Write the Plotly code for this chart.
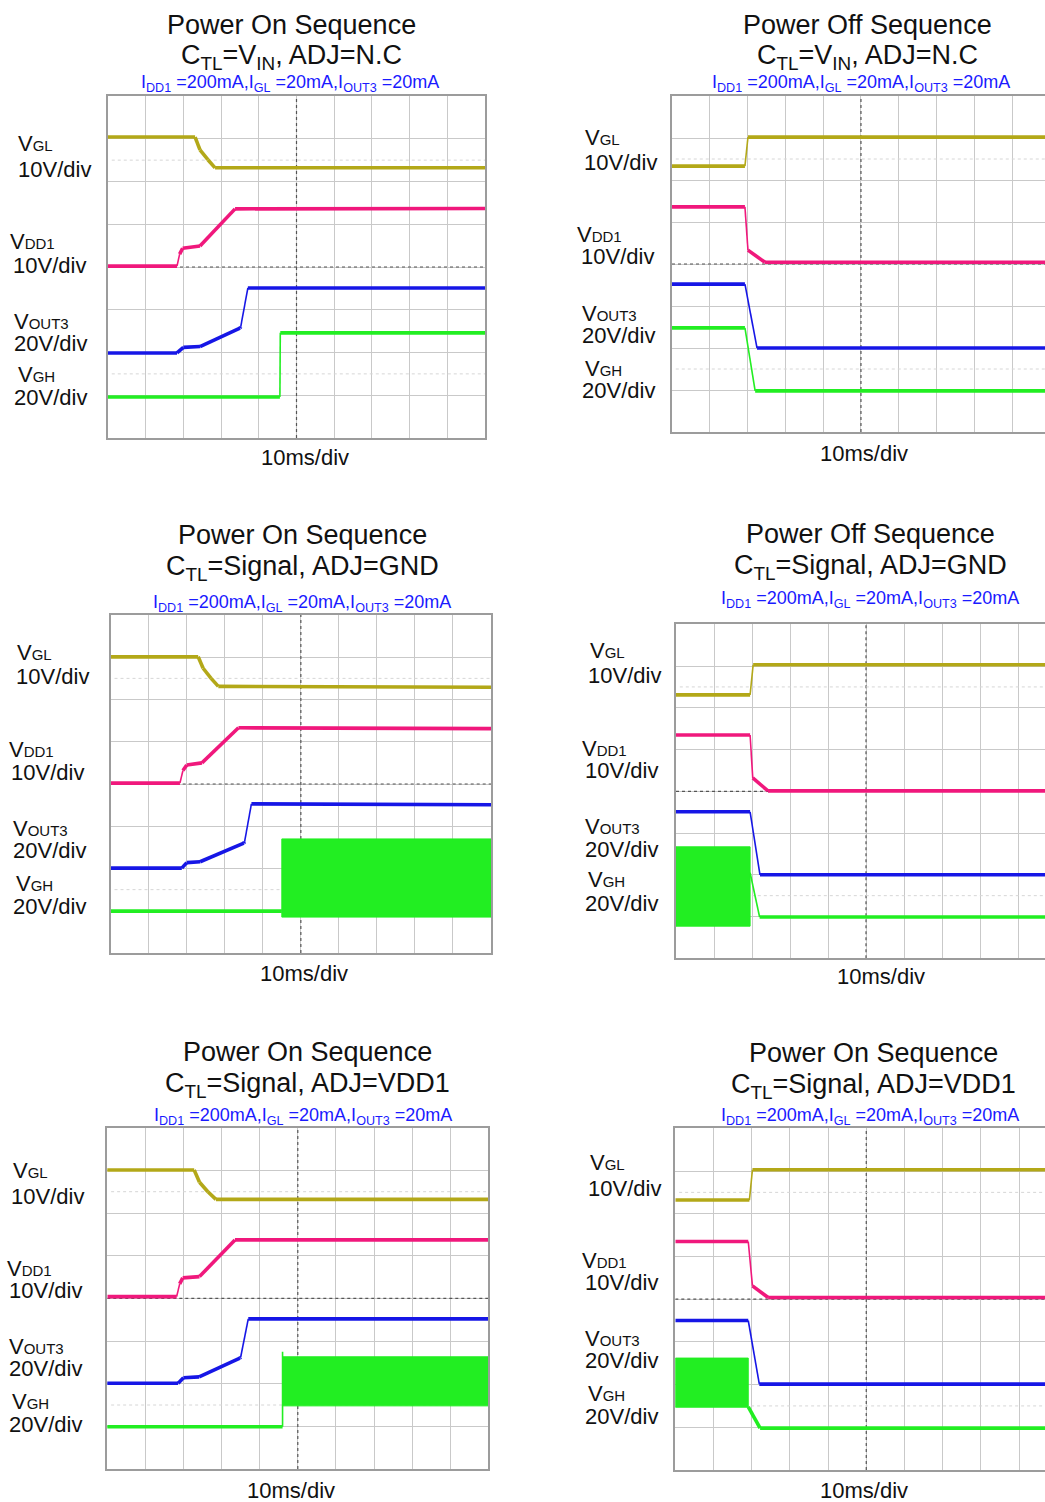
import plotly.graph_objects as go

W, H = 1045, 1502

# ---------------- data (screen divisions: x 10 div @10ms/div, y 8 div) ----------------
# Panel 1 : Power On, CTL=VIN, ADJ=N.C
P1_VGL_T = [-0.08, 2.31, 2.44, 2.65, 2.84, 10.0]
P1_VGL_V = [7.04, 7.04, 6.74, 6.51, 6.32, 6.32]
P1_VDD1_T = [-0.05, 1.83, 1.90, 1.98, 2.44, 3.37, 10.0]
P1_VDD1_V = [4.02, 4.02, 4.30, 4.44, 4.49, 5.36, 5.37]
P1_VOUT3_T = [-0.08, 1.83, 2.00, 2.44, 3.50, 3.52, 3.71, 10.0]
P1_VOUT3_V = [1.99, 1.99, 2.12, 2.14, 2.57, 2.60, 3.51, 3.51]
P1_VGH_T = [-0.05, 4.56, 4.57, 10.0]
P1_VGH_V = [0.96, 0.96, 2.46, 2.46]

# Panel 2 : Power Off, CTL=VIN, ADJ=N.C
P2_VGL_T = [-0.05, 1.93, 2.01, 9.9]
P2_VGL_V = [6.33, 6.33, 7.02, 7.02]
P2_VDD1_T = [0.0, 1.93, 2.01, 2.46, 9.9]
P2_VDD1_V = [5.36, 5.36, 4.33, 4.04, 4.04]
P2_VOUT3_T = [0.0, 1.93, 2.25, 9.9]
P2_VOUT3_V = [3.52, 3.52, 2.00, 2.00]
P2_VGH_T = [0.0, 1.93, 2.20, 9.9]
P2_VGH_V = [2.48, 2.48, 0.98, 0.98]

# Panel 3 : Power On, CTL=Signal, ADJ=GND
P3_VGL_T = [-0.08, 2.30, 2.43, 2.64, 2.83, 10.0]
P3_VGL_V = [7.01, 7.01, 6.74, 6.50, 6.31, 6.29]
P3_VDD1_T = [0.0, 1.82, 1.90, 2.00, 2.40, 3.36, 10.0]
P3_VDD1_V = [4.02, 4.02, 4.32, 4.45, 4.50, 5.33, 5.31]
P3_VOUT3_T = [-0.08, 1.87, 2.00, 2.35, 3.50, 3.52, 3.70, 10.0]
P3_VOUT3_V = [2.01, 2.01, 2.14, 2.16, 2.60, 2.63, 3.53, 3.51]
P3_VGH_T = [-0.08, 4.50]
P3_VGH_V = [0.99, 0.99]
P3_BURST = [4.50, 10.0, 0.85, 2.70]   # t_start, t_end, low, high

# Panel 4 : Power Off, CTL=Signal, ADJ=GND
P4_VGL_T = [0.0, 1.95, 2.03, 9.75]
P4_VGL_V = [6.31, 6.31, 7.03, 7.03]
P4_VDD1_T = [0.0, 1.95, 2.02, 2.42, 9.75]
P4_VDD1_V = [5.35, 5.35, 4.32, 4.01, 4.01]
P4_VOUT3_T = [0.0, 1.95, 2.21, 9.75]
P4_VOUT3_V = [3.51, 3.51, 2.00, 2.00]
P4_VGH_T = [1.95, 2.20, 9.75]
P4_VGH_V = [2.05, 0.99, 0.99]
P4_BURST = [0.0, 1.95, 0.77, 2.67]

# Panel 5 : Power On, CTL=Signal, ADJ=VDD1
P5_VGL_T = [-0.08, 2.28, 2.42, 2.64, 2.85, 10.0]
P5_VGL_V = [7.01, 7.01, 6.72, 6.50, 6.32, 6.32]
P5_VDD1_T = [0.0, 1.82, 1.90, 1.98, 2.42, 3.35, 10.0]
P5_VDD1_V = [4.04, 4.04, 4.34, 4.48, 4.51, 5.37, 5.37]
P5_VOUT3_T = [-0.08, 1.86, 2.00, 2.41, 3.48, 3.50, 3.70, 10.0]
P5_VOUT3_V = [2.01, 2.01, 2.14, 2.16, 2.60, 2.62, 3.52, 3.52]
P5_VGH_T = [-0.08, 4.60, 4.60]
P5_VGH_V = [0.99, 0.99, 2.75]
P5_BURST = [4.60, 10.0, 1.48, 2.63]

# Panel 6 : "Power On" title, CTL=Signal, ADJ=VDD1 (falling waveforms)
P6_VGL_T = [0.0, 1.94, 2.02, 9.75]
P6_VGL_V = [6.32, 6.32, 7.03, 7.03]
P6_VDD1_T = [0.0, 1.91, 2.02, 2.43, 9.75]
P6_VDD1_V = [5.35, 5.35, 4.31, 4.04, 4.04]
P6_VOUT3_T = [0.0, 1.91, 2.20, 9.75]
P6_VOUT3_V = [3.50, 3.50, 2.01, 2.01]
P6_VGH_T = [1.91, 2.22, 9.75]
P6_VGH_V = [1.48, 0.98, 0.98]
P6_BURST = [0.0, 1.91, 1.47, 2.62]

TRIG_T = 2.0          # trigger position (div)
TRIG_LEVEL = 4.5      # trigger level marker (div)

TITLES = ["Power On Sequence", "Power Off Sequence",
          "Power On Sequence", "Power Off Sequence",
          "Power On Sequence", "Power On Sequence"]
CONDS = ["C<sub>TL</sub>=V<sub>IN</sub>, ADJ=N.C", "C<sub>TL</sub>=V<sub>IN</sub>, ADJ=N.C",
         "C<sub>TL</sub>=Signal, ADJ=GND", "C<sub>TL</sub>=Signal, ADJ=GND",
         "C<sub>TL</sub>=Signal, ADJ=VDD1", "C<sub>TL</sub>=Signal, ADJ=VDD1"]
LOADS = "I<sub>DD1</sub> =200mA,I<sub>GL</sub> =20mA,I<sub>OUT3</sub> =20mA"
CH_NAMES = ["GL", "DD1", "OUT3", "GH"]
CH_SCALES = ["10V/div", "10V/div", "20V/div", "20V/div"]
TIME_SCALE = "10ms/div"

COLORS = {"VGL": "#b3a818", "VDD1": "#f0187c", "VOUT3": "#1616e6", "VGH": "#22ee22"}

panels = [
    dict(tr=[(P1_VGL_T, P1_VGL_V, "VGL"), (P1_VDD1_T, P1_VDD1_V, "VDD1"),
             (P1_VOUT3_T, P1_VOUT3_V, "VOUT3"), (P1_VGH_T, P1_VGH_V, "VGH")], burst=None),
    dict(tr=[(P2_VGL_T, P2_VGL_V, "VGL"), (P2_VDD1_T, P2_VDD1_V, "VDD1"),
             (P2_VOUT3_T, P2_VOUT3_V, "VOUT3"), (P2_VGH_T, P2_VGH_V, "VGH")], burst=None),
    dict(tr=[(P3_VGL_T, P3_VGL_V, "VGL"), (P3_VDD1_T, P3_VDD1_V, "VDD1"),
             (P3_VOUT3_T, P3_VOUT3_V, "VOUT3"), (P3_VGH_T, P3_VGH_V, "VGH")], burst=P3_BURST),
    dict(tr=[(P4_VGL_T, P4_VGL_V, "VGL"), (P4_VDD1_T, P4_VDD1_V, "VDD1"),
             (P4_VOUT3_T, P4_VOUT3_V, "VOUT3"), (P4_VGH_T, P4_VGH_V, "VGH")], burst=P4_BURST),
    dict(tr=[(P5_VGL_T, P5_VGL_V, "VGL"), (P5_VDD1_T, P5_VDD1_V, "VDD1"),
             (P5_VOUT3_T, P5_VOUT3_V, "VOUT3"), (P5_VGH_T, P5_VGH_V, "VGH")], burst=P5_BURST),
    dict(tr=[(P6_VGL_T, P6_VGL_V, "VGL"), (P6_VDD1_T, P6_VDD1_V, "VDD1"),
             (P6_VOUT3_T, P6_VOUT3_V, "VOUT3"), (P6_VGH_T, P6_VGH_V, "VGH")], burst=P6_BURST),
]

# ---------------- layout geometry (pixels) ----------------
# left, right, top, bottom, x-range max, right column?
GEOM = [
    (108.0, 485.0, 96.0, 438.0, 10.0, False),
    (672.0, 1045.0, 96.0, 432.0, 9.87, True),
    (110.7, 491.0, 615.0, 953.0, 10.0, False),
    (676.0, 1045.0, 624.3, 958.3, 9.71, True),
    (107.3, 488.3, 1127.7, 1469.0, 10.0, False),
    (675.3, 1045.0, 1128.3, 1470.0, 9.68, True),
]
# text positions: title centre x, title y, cond y, load centre x, load y, time centre x, time y
TXT = [
    (291, 25, 57, 290, 84, 305, 457),
    (867, 25, 57, 861, 83, 864, 453),
    (302, 535, 568, 302, 603, 304, 973),
    (870, 534, 567, 870, 600, 881, 976),
    (307, 1052, 1085, 303, 1116, 291, 1490),
    (874, 1053, 1086, 870, 1116, 864, 1490),
]
# channel label positions: (x of name, y of name, x of scale, y of scale) * 4
LBL = [
    [(17, 144, 17, 170), (9, 241, 12, 265), (13, 321, 13, 343), (17, 375, 13, 398)],
    [(584, 137, 583, 162), (576, 235, 580, 257), (581, 313, 581, 335), (584, 368, 581, 390)],
    [(16, 652, 15, 677), (8, 750, 10, 772), (12, 828, 12, 850), (15, 883, 12, 906)],
    [(589, 650, 587, 675), (581, 748, 584, 770), (584, 827, 584, 849), (587, 880, 584, 904)],
    [(12, 1170, 10, 1196), (6, 1268, 8, 1290), (8, 1346, 8, 1368), (11, 1401, 8, 1424)],
    [(589, 1162, 587, 1188), (581, 1260, 584, 1282), (584, 1338, 584, 1360), (587, 1393, 584, 1416)],
]

FONT = "Liberation Sans, Arial, Helvetica, sans-serif"
fig = go.Figure()
layout = dict(width=W, height=H, margin=dict(l=0, r=0, t=0, b=0),
              paper_bgcolor="white", plot_bgcolor="white", showlegend=False,
              font=dict(family=FONT, color="black"))
shapes, annotations = [], []


def px(x):
    return x / W


def py(y):
    return 1 - y / H


for i, (p, g) in enumerate(zip(panels, GEOM)):
    n = i + 1
    xa, ya = ("x" if n == 1 else f"x{n}"), ("y" if n == 1 else f"y{n}")
    xk, yk = ("xaxis" if n == 1 else f"xaxis{n}"), ("yaxis" if n == 1 else f"yaxis{n}")
    l, r, t, b, xmax, rightcol = g
    sx_px, sy_px = (r - l) / xmax, (b - t) / 8.0
    layout[xk] = dict(domain=[px(l), min(1.0, px(r))], range=[0, xmax], anchor=ya,
                      showgrid=True, gridcolor="#c9c9c9", gridwidth=1, dtick=1, tick0=0,
                      showticklabels=False, ticks="", zeroline=False, fixedrange=True,
                      showline=True, mirror=True, linecolor="#9c9c9c", linewidth=1.5)
    layout[yk] = dict(domain=[py(b), py(t)], range=[0, 8], anchor=xa,
                      showgrid=True, gridcolor="#c9c9c9", gridwidth=1, dtick=1, tick0=0,
                      showticklabels=False, ticks="", zeroline=False, fixedrange=True,
                      showline=True, mirror=(not rightcol), linecolor="#9c9c9c", linewidth=1.5)
    # centre cross-hair (dotted) and faint reference levels
    shapes.append(dict(type="line", xref=xa, yref=ya, x0=5, x1=5, y0=0, y1=8, layer="between",
                       line=dict(color="#555555", width=1.2, dash="dot")))
    shapes.append(dict(type="line", xref=xa, yref=ya, x0=0, x1=xmax, y0=4, y1=4, layer="between",
                       line=dict(color="#555555", width=1.2, dash="dot")))
    for lev in (6.5, 1.5):
        shapes.append(dict(type="line", xref=xa, yref=ya, x0=0.1, x1=xmax, y0=lev, y1=lev,
                           layer="between", line=dict(color="#d6d6d6", width=1, dash="dot")))

    # green switching burst
    if p["burst"] is not None:
        t0, t1, lo, hi = p["burst"]
        fig.add_trace(go.Scatter(x=[t0, t1, t1, t0, t0], y=[lo, lo, hi, hi, lo], xaxis=xa, yaxis=ya,
                                 mode="lines", fill="toself", fillcolor=COLORS["VGH"],
                                 line=dict(color=COLORS["VGH"], width=1), hoverinfo="skip"))
    # waveforms: slow parts drawn thick (noise band), fast edges drawn thin
    for tt, vv, name in p["tr"]:
        thick_x, thick_y, thin_x, thin_y = [], [], [], []
        for j in range(len(tt) - 1):
            dx = abs(tt[j + 1] - tt[j]) * sx_px
            dy = abs(vv[j + 1] - vv[j]) * sy_px
            if dy > 3.0 * dx:
                thin_x += [tt[j], tt[j + 1], None]
                thin_y += [vv[j], vv[j + 1], None]
            else:
                thick_x += [tt[j], tt[j + 1], None]
                thick_y += [vv[j], vv[j + 1], None]
        if thin_x:
            fig.add_trace(go.Scatter(x=thin_x, y=thin_y, xaxis=xa, yaxis=ya, mode="lines",
                                     line=dict(color=COLORS[name], width=1.6), cliponaxis=False,
                                     hoverinfo="skip"))
        fig.add_trace(go.Scatter(x=thick_x, y=thick_y, xaxis=xa, yaxis=ya, mode="lines",
                                 line=dict(color=COLORS[name], width=3.6), cliponaxis=False,
                                 hoverinfo="skip"))
    # channel ground markers at left edge
    gnd = [p["tr"][0][1][0] if p["tr"][0][1][0] > 6.8 else p["tr"][0][1][-1],
           min(p["tr"][1][1]), min(p["tr"][2][1]), min(p["tr"][3][1])]
    fig.add_trace(go.Scatter(x=[-0.13] * 4, y=gnd, xaxis=xa, yaxis=ya, mode="markers",
                             marker=dict(symbol="line-ew", size=6,
                                         line=dict(width=1.5, color=[COLORS[k] for k in COLORS])),
                             cliponaxis=False, hoverinfo="skip"))
    # trigger markers
    fig.add_trace(go.Scatter(x=[TRIG_T], y=[-0.14], xaxis=xa, yaxis=ya, mode="markers",
                             marker=dict(symbol="triangle-up", size=4, color=COLORS["VDD1"]),
                             cliponaxis=False, hoverinfo="skip"))
    if not rightcol:
        fig.add_trace(go.Scatter(x=[xmax + 0.06], y=[TRIG_LEVEL], xaxis=xa, yaxis=ya, mode="markers",
                                 marker=dict(symbol="triangle-left", size=4, color=COLORS["VDD1"]),
                                 cliponaxis=False, hoverinfo="skip"))

    # texts
    tcx, ty, cy, lcx, ly, mcx, my = TXT[i]
    annotations.append(dict(text=TITLES[i], x=px(tcx), y=py(ty), xref="paper", yref="paper",
                            showarrow=False, xanchor="center", yanchor="middle",
                            font=dict(size=27, color="#111111")))
    annotations.append(dict(text=CONDS[i], x=px(tcx), y=py(cy), xref="paper", yref="paper",
                            showarrow=False, xanchor="center", yanchor="middle",
                            font=dict(size=27, color="#111111")))
    annotations.append(dict(text=LOADS, x=px(lcx), y=py(ly), xref="paper", yref="paper",
                            showarrow=False, xanchor="center", yanchor="middle",
                            font=dict(size=18, color="#1a1aff")))
    annotations.append(dict(text=TIME_SCALE, x=px(mcx), y=py(my), xref="paper", yref="paper",
                            showarrow=False, xanchor="center", yanchor="middle", borderpad=0,
                            font=dict(size=22, color="#111111")))
    for k in range(4):
        nx, ny, sx, sy = LBL[i][k]
        annotations.append(dict(text=f"V<span style='font-size:15px'>{CH_NAMES[k]}</span>",
                                x=px(nx), y=py(ny), xref="paper", yref="paper", showarrow=False,
                                xanchor="left", yanchor="middle", borderpad=0,
                                font=dict(size=22, color="#111111")))
        annotations.append(dict(text=CH_SCALES[k], x=px(sx), y=py(sy), xref="paper", yref="paper",
                                showarrow=False, xanchor="left", yanchor="middle", borderpad=0,
                                font=dict(size=22, color="#111111")))

layout["shapes"] = shapes
layout["annotations"] = annotations
fig.update_layout(**layout)
fig.write_html("out.html", config={"displayModeBar": False},
               post_script="document.body.style.margin='0';document.body.style.overflow='hidden';")
